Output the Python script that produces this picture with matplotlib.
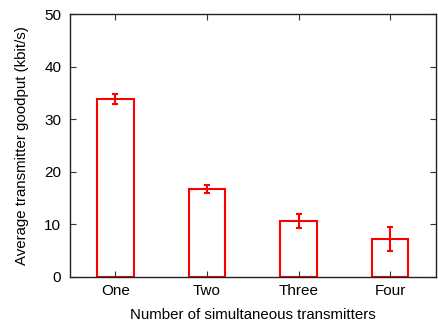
import matplotlib
matplotlib.use("Agg")
import matplotlib.pyplot as plt

CATEGORIES = ["One", "Two", "Three", "Four"]
GOODPUT = [33.8, 16.75, 10.6, 7.25]
ERROR = [0.9, 0.8, 1.3, 2.3]

plt.rcParams["font.family"] = ["Liberation Sans", "DejaVu Sans"]

fig = plt.figure(figsize=(4.38, 3.22), dpi=100)
ax = fig.add_axes([0.1587, 0.1398, 0.8367, 0.8167])

x = list(range(1, len(CATEGORIES) + 1))
ax.bar(x, GOODPUT, width=0.4, facecolor="none", edgecolor="#ff0000", linewidth=1.5)
ax.errorbar(x, GOODPUT, yerr=ERROR, fmt="none", ecolor="#ff0000",
            elinewidth=1.5, capsize=2.5, capthick=1.5)

ax.set_xlim(0.5, 4.5)
ax.set_ylim(0, 50)
ax.set_xticks(x)
ax.set_xticklabels(CATEGORIES)
ax.set_yticks(range(0, 51, 10))
ax.tick_params(direction="in", length=4, width=0.8, top=True, right=True,
               labelsize=11, pad=5, colors="#333333", labelcolor="black")
ax.tick_params(axis="y", pad=6)
for s in ax.spines.values():
    s.set_color("#222222")
    s.set_linewidth(1.0)

ax.set_xlabel("Number of simultaneous transmitters", fontsize=10.8, labelpad=7.5)
ax.set_ylabel("Average transmitter goodput (kbit/s)", fontsize=10.8, labelpad=11)

fig.savefig("out.png", dpi=100)
